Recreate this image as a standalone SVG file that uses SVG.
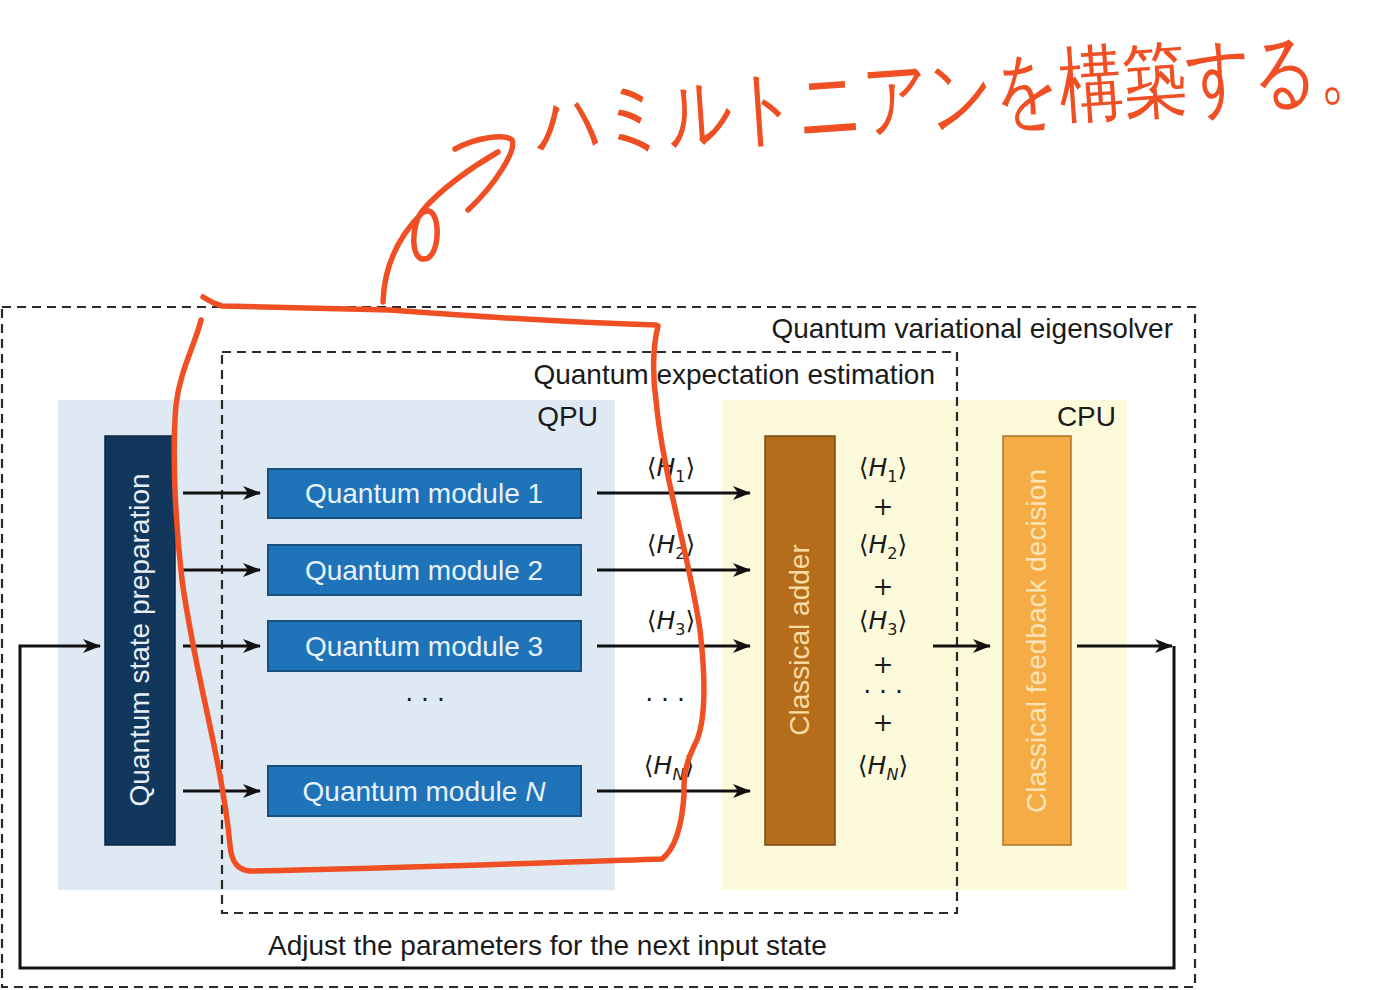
<svg xmlns="http://www.w3.org/2000/svg" width="1400" height="990" viewBox="0 0 1400 990">
<defs>
<marker id="ah" markerWidth="18" markerHeight="16" refX="17" refY="8" orient="auto" markerUnits="userSpaceOnUse">
<path d="M0,1 L18,8 L0,15 L5,8 z" fill="#111"/>
</marker>
<style>
text{font-family:"Liberation Sans",Arial,sans-serif;}
.lbl{font-size:28px;fill:#1a1a1a;}
.box{font-size:28px;}
.dash{fill:none;stroke:#2a2a2a;stroke-width:2.2;stroke-dasharray:9,6;}
.arr{fill:none;stroke:#111;stroke-width:3;marker-end:url(#ah);}
.ev{font-family:"DejaVu Sans","Liberation Sans",sans-serif;font-size:25px;fill:#1a1a1a;text-anchor:middle;}
.it{font-style:italic;}
.red{fill:none;stroke:#f04e23;stroke-width:5.5;stroke-linecap:round;stroke-linejoin:round;}
</style>
</defs>
<rect width="1400" height="990" fill="#ffffff"/>

<g id="regions">
<rect x="58" y="400" width="557" height="490" fill="#dfe9f3"/>
<rect x="722" y="400" width="405" height="490" fill="#fdfadc"/>
<text class="lbl" x="598" y="426" text-anchor="end">QPU</text>
<text class="lbl" x="1116" y="426" text-anchor="end">CPU</text>
</g>

<g id="outer-frame">
<rect class="dash" x="2" y="307" width="1193" height="680"/>
<text class="lbl" x="1173" y="338" text-anchor="end">Quantum variational eigensolver</text>
</g>
<g id="inner-frame">
<rect class="dash" x="222" y="352" width="735" height="561"/>
<text class="lbl" x="935" y="384" text-anchor="end">Quantum expectation estimation</text>
</g>

<g id="prep">
<rect x="105" y="436" width="70" height="409" fill="#11385c" stroke="#0b2640" stroke-width="1.5"/>
<text class="box" transform="translate(149,640) rotate(-90)" text-anchor="middle" fill="#e8eef5">Quantum state preparation</text>
</g>

<g id="module1">
<rect x="268" y="469" width="313" height="49" fill="#1f73b9" stroke="#17507f" stroke-width="2"/>
<text class="box" x="424" y="503" text-anchor="middle" fill="#eaf2fa">Quantum module 1</text>
</g>
<g id="module2">
<rect x="268" y="545" width="313" height="50" fill="#1f73b9" stroke="#17507f" stroke-width="2"/>
<text class="box" x="424" y="580" text-anchor="middle" fill="#eaf2fa">Quantum module 2</text>
</g>
<g id="module3">
<rect x="268" y="621" width="313" height="50" fill="#1f73b9" stroke="#17507f" stroke-width="2"/>
<text class="box" x="424" y="656" text-anchor="middle" fill="#eaf2fa">Quantum module 3</text>
</g>
<g id="moduleN">
<rect x="268" y="766" width="313" height="50" fill="#1f73b9" stroke="#17507f" stroke-width="2"/>
<text class="box" x="424" y="801" text-anchor="middle" fill="#eaf2fa">Quantum module <tspan class="it">N</tspan></text>
</g>
<text class="ev" x="425" y="708">· · ·</text>

<g id="adder">
<rect x="765" y="436" width="70" height="409" fill="#b56d1b" stroke="#7a4a12" stroke-width="1.5"/>
<text class="box" transform="translate(809,640) rotate(-90)" text-anchor="middle" fill="#f9dca2">Classical adder</text>
</g>

<g id="feedback">
<rect x="1003" y="436" width="68" height="409" fill="#f6ac44" stroke="#a8762a" stroke-width="1.5"/>
<text class="box" transform="translate(1046,641) rotate(-90)" text-anchor="middle" fill="#fbe4b8">Classical feedback decision</text>
</g>

<g id="expectation-labels">
<text class="ev" x="671" y="476">⟨<tspan class="it">H</tspan><tspan font-size="16" dy="6">1</tspan><tspan dy="-6">⟩</tspan></text>
<text class="ev" x="671" y="553">⟨<tspan class="it">H</tspan><tspan font-size="16" dy="6">2</tspan><tspan dy="-6">⟩</tspan></text>
<text class="ev" x="671" y="629">⟨<tspan class="it">H</tspan><tspan font-size="16" dy="6">3</tspan><tspan dy="-6">⟩</tspan></text>
<text class="ev" x="665" y="708">· · ·</text>
<text class="ev" x="669" y="774">⟨<tspan class="it">H</tspan><tspan font-size="16" dy="6"><tspan class="it">N</tspan></tspan><tspan dy="-6">⟩</tspan></text>

<text class="ev" x="883" y="476">⟨<tspan class="it">H</tspan><tspan font-size="16" dy="6">1</tspan><tspan dy="-6">⟩</tspan></text>
<text class="ev" x="883" y="515">+</text>
<text class="ev" x="883" y="553">⟨<tspan class="it">H</tspan><tspan font-size="16" dy="6">2</tspan><tspan dy="-6">⟩</tspan></text>
<text class="ev" x="883" y="595">+</text>
<text class="ev" x="883" y="629">⟨<tspan class="it">H</tspan><tspan font-size="16" dy="6">3</tspan><tspan dy="-6">⟩</tspan></text>
<text class="ev" x="883" y="673">+</text>
<text class="ev" x="883" y="700" font-size="16">· · ·</text>
<text class="ev" x="883" y="731">+</text>
<text class="ev" x="883" y="774">⟨<tspan class="it">H</tspan><tspan font-size="16" dy="6"><tspan class="it">N</tspan></tspan><tspan dy="-6">⟩</tspan></text>
</g>

<g id="connectors">
<line class="arr" x1="183" y1="493" x2="260" y2="493"/>
<line class="arr" x1="183" y1="570" x2="260" y2="570"/>
<line class="arr" x1="183" y1="646" x2="260" y2="646"/>
<line class="arr" x1="183" y1="791" x2="260" y2="791"/>
<line class="arr" x1="597" y1="493" x2="750" y2="493"/>
<line class="arr" x1="597" y1="570" x2="750" y2="570"/>
<line class="arr" x1="597" y1="646" x2="750" y2="646"/>
<line class="arr" x1="597" y1="791" x2="750" y2="791"/>
<line class="arr" x1="933" y1="646" x2="990" y2="646"/>
<line class="arr" x1="1077" y1="646" x2="1172" y2="646"/>
<path class="arr" d="M1174,646 L1174,968 L20,968 L20,646 L100,646"/>
</g>
<text class="lbl" x="268" y="955">Adjust the parameters for the next input state</text>

<g id="annotation">
<path class="red" d="M203,297 Q212,303 222,306 C300,308 360,309 390,310 C470,316 560,322 656,325"/>
<path class="red" d="M658,326 C652,350 653,380 656,400 C662,470 690,560 700,630 C707,690 704,722 697,740 C688,758 683,772 684,795 C682,825 676,848 662,859 C560,862 420,868 250,871 C235,870 231,858 230,845 C222,760 196,680 182,580 C175,520 172,450 176,405 C180,370 195,345 201,320"/>
<path class="red" d="M383,302 C384,270 395,240 422,213 C440,200 442,250 428,258 C410,266 410,225 423,210 C440,190 470,168 498,152"/>
<path class="red" d="M455,149 C475,138 505,133 512,140 C517,150 495,185 468,210"/>
<text transform="translate(538,152) rotate(-4) scale(1,1.3)" font-family="'Noto Sans CJK JP','Noto Sans CJK SC',sans-serif" font-size="64" fill="#f04e23">ハミルトニアンを構築する。</text>
</g>
</svg>
